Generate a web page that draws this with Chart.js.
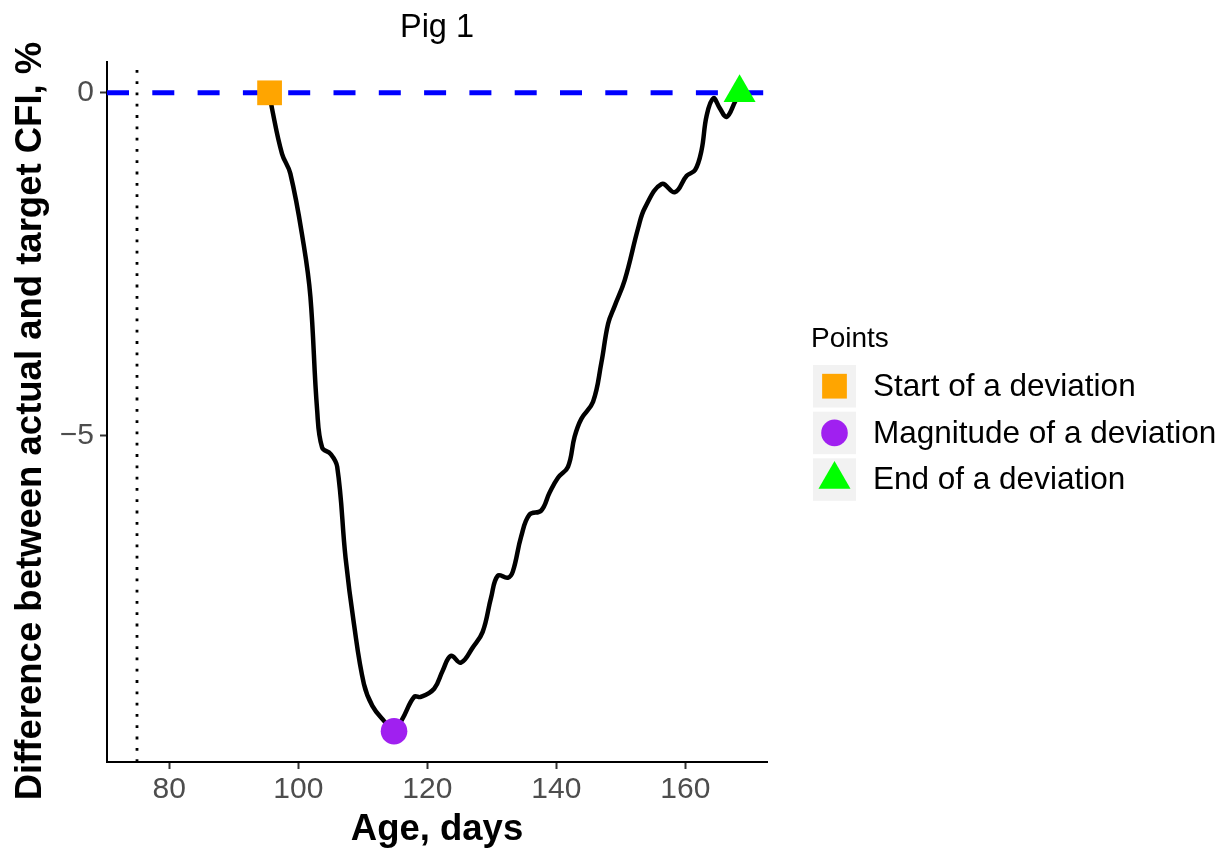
<!DOCTYPE html>
<html>
<head>
<meta charset="utf-8">
<script src="https://cdn.jsdelivr.net/npm/chart.js@4.4.1/dist/chart.umd.min.js"></script>
<style>
  body { margin: 0; background: #fff; }
  canvas { display: block; }
</style>
</head>
<body>
<canvas id="c" width="1227" height="848"></canvas>
<script>
// ── data ──
const ageDays = [95.55, 95.93, 97.48, 98.77, 100.84, 101.88, 102.92, 103.70, 104.99, 106.03,
    107.33, 108.62, 110.17, 111.48, 113.28, 114.84, 116.14, 117.95, 118.99, 121.06,
    122.36, 123.65, 125.21, 127.03, 128.58, 129.88, 130.92, 132.47, 133.25, 134.54,
    135.83, 137.65, 138.94, 140.25, 141.80, 142.83, 143.87, 145.69, 146.98, 148.02,
    149.05, 150.61, 152.69, 153.72, 156.31, 158.38, 160.20, 161.49, 162.5, 163.3,
    164.35, 165.3, 166.4, 167.7, 168.4];
const cfiDiff = [0, -0.23, -0.89, -1.18, -2.22, -2.98, -4.63, -5.18, -5.27, -5.46,
    -6.79, -7.75, -8.63, -8.95, -9.17, -9.32, -9.14, -8.82, -8.82, -8.70,
    -8.44, -8.22, -8.32, -8.10, -7.87, -7.37, -7.05, -7.08, -6.99, -6.48,
    -6.16, -6.10, -5.84, -5.62, -5.46, -5.02, -4.76, -4.51, -3.94, -3.37,
    -3.11, -2.73, -1.97, -1.68, -1.33, -1.45, -1.21, -1.13, -0.84, -0.33,
    -0.08, -0.22, -0.35, -0.13, 0];

const pointLabels = ['Start of a deviation', 'Magnitude of a deviation', 'End of a deviation'];
const pointAge = [95.55, 114.84, 168.4];
const pointDiff = [0, -9.32, 0];
const pointColors = ['#FFA500', '#A020F0', '#00FF00'];
const pointShapes = ['rect', 'circle', 'triangle'];
const pointRadii = [17.5, 13.3, 18.5];

const targetDiff = 0;      // dashed blue reference
const startAge = 75;       // dotted vertical reference
const xTicks = [80, 100, 120, 140, 160];
const yTicks = [0, -5];
const xRange = [70.35, 172.65];
const yRange = [-9.77, 0.45];

const FONT = '"Liberation Sans", Arial, sans-serif';

// ── legend + titles ──
function drawShape(ctx, shape, x, y, r, color) {
    ctx.fillStyle = color;
    ctx.beginPath();
    if (shape === 'rect') {
        const s = Math.SQRT1_2 * r;
        ctx.rect(x - s, y - s, 2 * s, 2 * s);
    } else if (shape === 'circle') {
        ctx.arc(x, y, r, 0, Math.PI * 2);
    } else {
        ctx.moveTo(x, y - r);
        ctx.lineTo(x + r * Math.sin(Math.PI / 3), y + r / 2);
        ctx.lineTo(x - r * Math.sin(Math.PI / 3), y + r / 2);
        ctx.closePath();
    }
    ctx.fill();
}

const pointsLegend = {
    id: 'pointsLegend',
    afterDraw(chart) {
        const ctx = chart.ctx;
        const area = chart.chartArea;
        ctx.save();
        // title centred over the panel (ggplot style)
        ctx.fillStyle = '#000';
        ctx.font = '32.5px ' + FONT;
        ctx.textAlign = 'center';
        ctx.textBaseline = 'middle';
        ctx.fillText('Pig 1', (area.left + area.right) / 2, 28);

        // y axis title
        ctx.save();
        ctx.translate(31, 421);
        ctx.rotate(-Math.PI / 2);
        ctx.font = 'bold 36.5px ' + FONT;
        ctx.fillText('Difference between actual and target CFI, %', 0, 0);
        ctx.restore();

        ctx.textAlign = 'left';
        ctx.textBaseline = 'alphabetic';
        ctx.font = '28px ' + FONT;
        ctx.fillText('Points', 811, 347);
        const boxX = 813, boxW = 43, tops = [365, 411.7, 458.3];
        pointLabels.forEach((lab, i) => {
            ctx.fillStyle = '#f2f2f2';
            ctx.fillRect(boxX, tops[i], boxW, 42.5);
            const cy = tops[i] + 21.2;
            drawShape(ctx, pointShapes[i], boxX + boxW / 2, cy, pointRadii[i], pointColors[i]);
            ctx.fillStyle = '#000';
            ctx.font = '31.5px ' + FONT;
            ctx.textBaseline = 'middle';
            ctx.fillText(lab, 873, cy + 1);
        });
        ctx.restore();
    }
};

const curve = ageDays.map((x, i) => ({ x, y: cfiDiff[i] }));

new Chart(document.getElementById('c'), {
    type: 'scatter',
    data: {
        datasets: [
            ...pointLabels.map((lab, i) => ({
                label: lab,
                data: [{ x: pointAge[i], y: pointDiff[i] }],
                pointStyle: pointShapes[i],
                pointRadius: pointRadii[i],
                backgroundColor: pointColors[i],
                borderWidth: 0,
                clip: false,
                order: 0,
            })),
            {
                label: 'curve',
                data: curve,
                showLine: true,
                borderColor: '#000',
                borderWidth: 4.5,
                pointRadius: 0,
                tension: 0.4,
                order: 1,
            },
            {
                label: 'target',
                data: [{ x: xRange[0], y: targetDiff }, { x: xRange[1], y: targetDiff }],
                showLine: true,
                borderColor: '#0000FF',
                borderWidth: 5,
                borderDash: [22, 23.3],
                pointRadius: 0,
                order: 2,
            },
            {
                label: 'start',
                data: [{ x: startAge, y: yRange[0] }, { x: startAge, y: yRange[1] }],
                showLine: true,
                borderColor: '#000',
                borderWidth: 2.8,
                borderDash: [2.8, 8.5],
                pointRadius: 0,
                order: 3,
            },
        ]
    },
    options: {
        responsive: false,
        animation: false,
        layout: {
            padding: { left: 0, right: 460, top: 62, bottom: 0 }
        },
        plugins: {
            legend: { display: false },
            tooltip: { enabled: false },
            title: { display: false },
        },
        scales: {
            x: {
                type: 'linear',
                min: xRange[0],
                max: xRange[1],
                afterBuildTicks: s => { s.ticks = xTicks.map(v => ({ value: v })); },
                afterFit: s => { s.height = 86; },
                border: { display: true, color: '#000', width: 2 },
                grid: { drawOnChartArea: false, drawTicks: true, tickLength: 7, tickColor: '#333', tickWidth: 2 },
                ticks: { color: '#4d4d4d', font: { family: FONT, size: 30 }, padding: 3, maxRotation: 0 },
                title: {
                    display: true,
                    text: 'Age, days',
                    color: '#000',
                    font: { family: FONT, size: 36.5, weight: 'bold' },
                    padding: { top: 0, bottom: -4 },
                },
            },
            y: {
                type: 'linear',
                min: yRange[0],
                max: yRange[1],
                afterBuildTicks: s => { s.ticks = yTicks.map(v => ({ value: v })); },
                afterFit: s => { s.width = 107; },
                border: { display: true, color: '#000', width: 2 },
                grid: { drawOnChartArea: false, drawTicks: true, tickLength: 7, tickColor: '#333', tickWidth: 2 },
                ticks: {
                    color: '#4d4d4d',
                    font: { family: FONT, size: 30 },
                    padding: 6,
                    callback: v => v < 0 ? '\u2212' + Math.abs(v) : String(v),
                },
                title: { display: false },
            },
        },
    },
    plugins: [pointsLegend],
});
</script>
</body>
</html>
